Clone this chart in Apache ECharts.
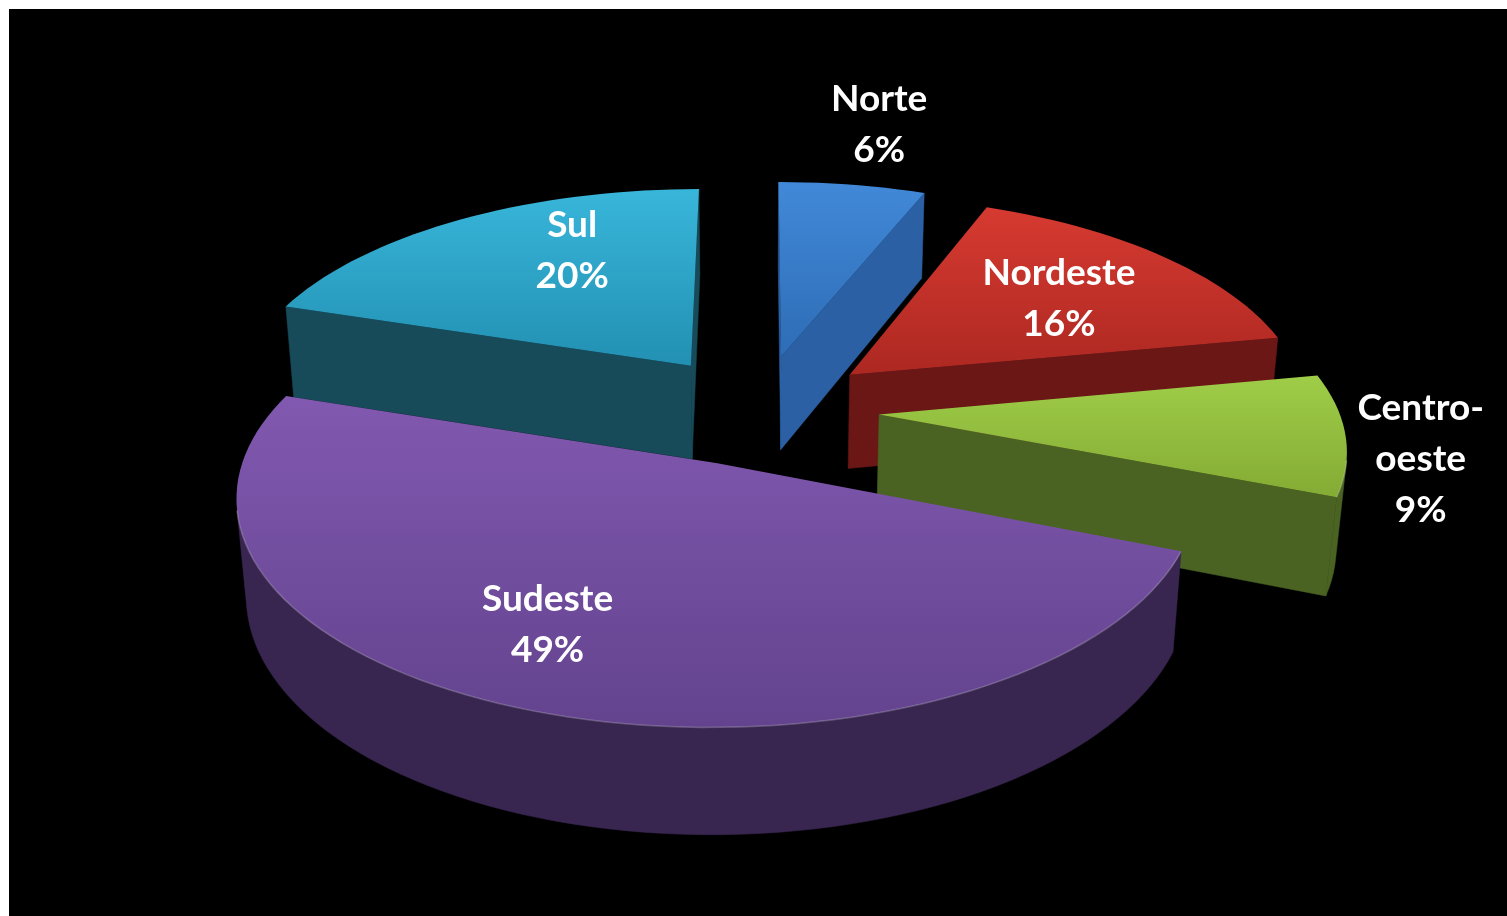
<!DOCTYPE html>
<html><head><meta charset="utf-8">
<script src="https://cdn.jsdelivr.net/npm/echarts@6/dist/echarts.min.js"></script>
<style>
html,body{margin:0;padding:0;background:#fff;}
#chart{position:absolute;left:9px;top:9px;width:1498px;height:907px;background:#000;}
</style></head><body><div id="chart"></div>
<script>
const categories = ['Norte','Nordeste','Centro-oeste','Sudeste','Sul'];
const values = [6,16,9,49,20];

// styles
const topColors = [['#4189d8','#2e6cb6'],['#d63a30','#ad2822'],['#9fcd48','#84ab34'],['#8159b0','#63438e'],['#38b6da','#2290b2']];
const sideColors = ['#2b60a5','#6a1716','#4a6322','#382650','#174b5a'];
const labelR = [1.45,0.62,1.18,0.55,0.6];
const labelNudge = [[0,5],[10,0],[-10,20],[-71,35],[25,-24]];
// 3D view: centre x, centre y, scale, elevation, camera distance, height, explode
const VIEW = {cx:750.4, cy:495.4, k:451.08, phi:0.5118, D:6.5007, H:0.2374, E:0.2609};

const total = values.reduce((a,b)=>a+b,0);
const starts=[], ends=[], mids=[];
let acc=0;
values.forEach(v=>{const a0=acc/total*360; acc+=v; const a1=acc/total*360; starts.push(a0); ends.push(a1); mids.push((a0+a1)/2);});
const rad = d=>d*Math.PI/180;
const {cx,cy,k,phi,D,H,E} = VIEW;

function P(slice, thDeg, r, lvl){
  const m=rad(mids[slice]), t=rad(thDeg);
  const x=E*Math.sin(m)+r*Math.sin(t);
  const z=E*Math.cos(m)+r*Math.cos(t);
  const y=lvl*H;
  const up=y*Math.cos(phi)+z*Math.sin(phi);
  const dep=z*Math.cos(phi)-y*Math.sin(phi);
  const s=D/(D+dep);
  return [cx+k*s*x, cy-k*s*up];
}
const camZ=-D*Math.cos(phi);
function visibleN(nx,nz,px,pz){return nx*(0-px)+nz*(camZ-pz)>0;}

const order = mids.map((m,i)=>({i,z:(E+0.5)*Math.cos(rad(m))})).sort((a,b)=>b.z-a.z);
const rank=[]; order.forEach((o,r)=>rank[o.i]=r);

function renderItem(params, api){
  const i=params.dataIndex;
  const a0=starts[i], a1=ends[i], m=rad(mids[i]);
  const ex=E*Math.sin(m), ez=E*Math.cos(m);
  const n=Math.max(4,Math.ceil((a1-a0)/2));
  const thetas=[]; for(let j=0;j<=n;j++) thetas.push(a0+(a1-a0)*j/n);
  const children=[];
  const side=sideColors[i];
  const base=rank[i]*10;
  const cuts=[[a0,-Math.cos(rad(a0)),Math.sin(rad(a0))],[a1,Math.cos(rad(a1)),-Math.sin(rad(a1))]];
  cuts.forEach(([a,nx,nz])=>{
    const px=ex+0.5*Math.sin(rad(a)), pz=ez+0.5*Math.cos(rad(a));
    if(visibleN(nx,nz,px,pz)){
      children.push({type:'polygon',z2:base+1,shape:{points:[P(i,a,0,1),P(i,a,1,1),P(i,a,1,0),P(i,a,0,0)]},style:{fill:side,stroke:side,lineWidth:0.5}});
    }
  });
  let run=[];
  const flush=()=>{ if(run.length){const ts=[run[0][0]].concat(run.map(r=>r[1]));
      const tp=ts.map(t=>P(i,t,1,1));
      const pts=tp.concat(ts.slice().reverse().map(t=>P(i,t,1,0)));
      children.push({type:'polygon',z2:base+1,shape:{points:pts},style:{fill:side,stroke:side,lineWidth:0.5}});
      children.push({type:'polyline',z2:base+3,shape:{points:tp},style:{fill:null,stroke:'rgba(255,255,255,0.22)',lineWidth:1.5}});
      run=[];}};
  for(let j=0;j<n;j++){
    const tm=rad((thetas[j]+thetas[j+1])/2);
    const nx=Math.sin(tm), nz=Math.cos(tm);
    if(visibleN(nx,nz,ex+nx,ez+nz)) run.push([thetas[j],thetas[j+1]]); else flush();
  }
  flush();
  const topPts=[P(i,a0,0,1)].concat(thetas.map(t=>P(i,t,1,1)));
  children.push({type:'polygon',z2:base+2,shape:{points:topPts},style:{fill:{type:'linear',x:0,y:0,x2:0,y2:1,colorStops:[{offset:0,color:topColors[i][0]},{offset:1,color:topColors[i][1]}]}}});
  const lp=P(i,mids[i],labelR[i],1);
  const nm=categories[i].replace('-','-\n');
  children.push({type:'text',z2:100,x:lp[0]+labelNudge[i][0],y:lp[1]+labelNudge[i][1],style:{text:nm+'\n'+api.value(0)+'%',fill:'#fff',font:'bold 37px Lato',align:'center',verticalAlign:'middle',lineHeight:51}});
  return {type:'group',children};
}

const chart=echarts.init(document.getElementById('chart'));
chart.setOption({
  animation:false,
  backgroundColor:'#000',
  series:[{type:'custom',coordinateSystem:'none',renderItem,data:values.map((v,i)=>({name:categories[i],value:v}))}]
});
</script></body></html>
